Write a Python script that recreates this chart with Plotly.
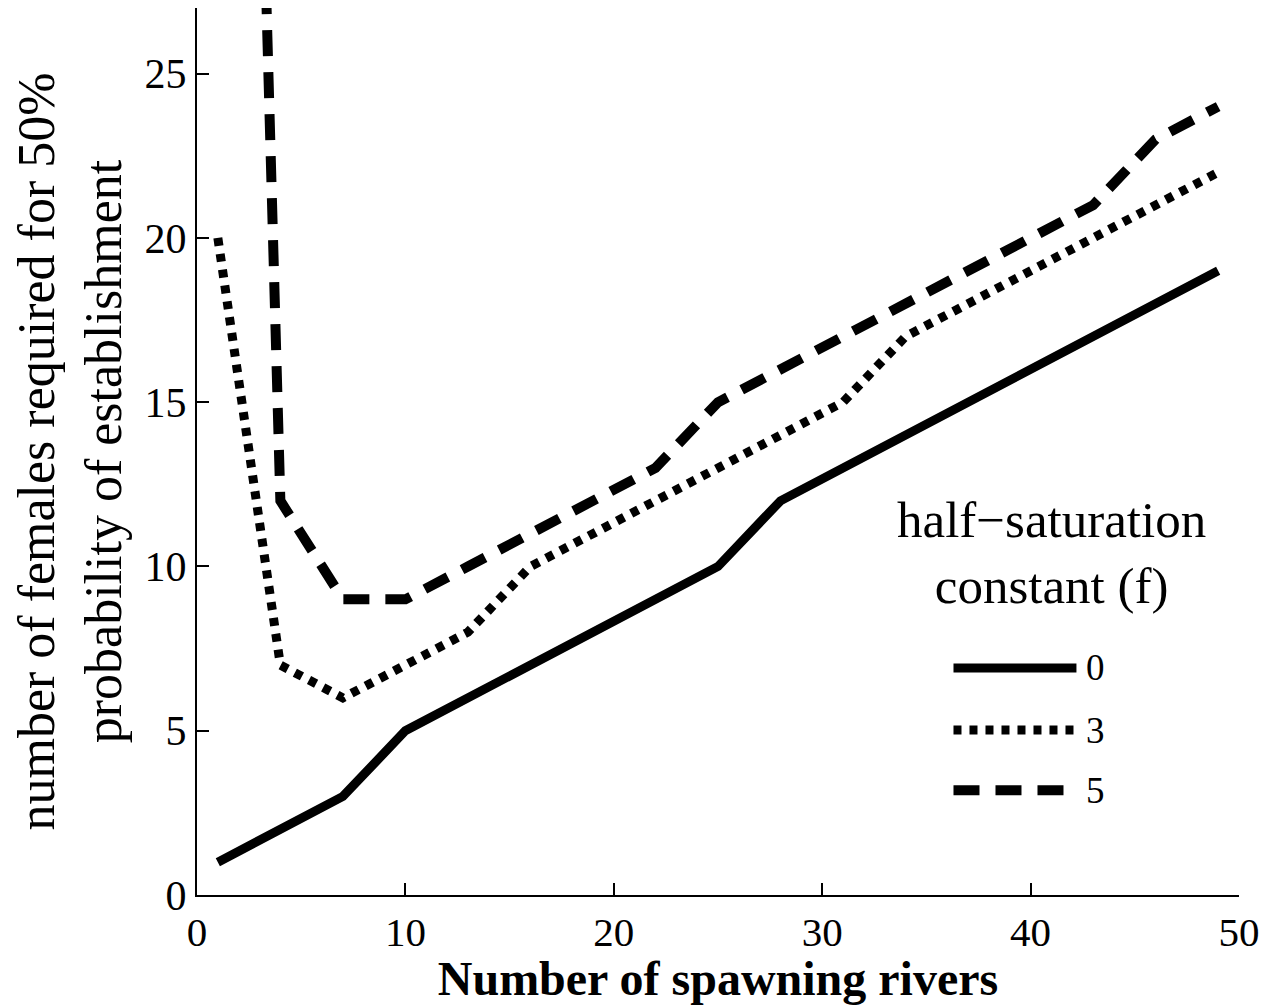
import plotly.graph_objects as go

# ---- data ----
rivers = [1, 4, 7, 10, 13, 16, 19, 22, 25, 28, 31, 34, 37, 40, 43, 46, 49]
f0 = [1, 2, 3, 5, 6, 7, 8, 9, 10, 12, 13, 14, 15, 16, 17, 18, 19]
f3 = [20, 7, 6, 7, 8, 10, 11, 12, 13, 14, 15, 17, 18, 19, 20, 21, 22]
f5 = [80, 12, 9, 9, 10, 11, 12, 13, 15, 16, 17, 18, 19, 20, 21, 23, 24]
series_names = ["0", "3", "5"]
x_ticks = [0, 10, 20, 30, 40, 50]
y_ticks = [0, 5, 10, 15, 20, 25]

FONT = "Liberation Serif, Times New Roman, serif"

styles = [
    dict(width=9, dash="solid"),
    dict(width=9, dash="8px,8px"),
    dict(width=10, dash="26px,16px"),
]

fig = go.Figure()
for name, ys, st in zip(series_names, [f0, f3, f5], styles):
    fig.add_trace(go.Scatter(
        x=rivers, y=ys, mode="lines", name=name,
        line=dict(color="black", width=st["width"], dash=st["dash"]),
        showlegend=False,
    ))

# ---- manual legend (samples + labels) ----
leg_x0, leg_x1 = 0.726, 0.844
leg_rows = [0.256, 0.186, 0.118]
for name, yy, st in zip(series_names, leg_rows, styles):
    fig.add_shape(type="line", xref="paper", yref="paper",
                  x0=leg_x0, x1=leg_x1, y0=yy, y1=yy,
                  line=dict(color="black", width=st["width"], dash=st["dash"]))
    fig.add_annotation(xref="paper", yref="paper", x=0.851, y=yy,
                       xanchor="left", yanchor="middle", showarrow=False,
                       text=name, font=dict(family=FONT, size=37, color="black"))

fig.add_annotation(xref="paper", yref="paper", x=0.82, y=0.386,
                   xanchor="center", yanchor="middle", showarrow=False,
                   align="center",
                   text="half\u2212saturation<br>constant (f)",
                   font=dict(family=FONT, size=51, color="black"))

fig.update_layout(
    width=1268, height=1005,
    margin=dict(l=197, r=27, t=8, b=110),
    paper_bgcolor="white", plot_bgcolor="white",
    font=dict(family=FONT, color="black"),
    xaxis=dict(
        range=[0, 50], tickvals=x_ticks, ticks="inside", ticklen=12,
        tickwidth=2, tickcolor="black", showline=True, linecolor="black",
        linewidth=2, showgrid=False, zeroline=False,
        tickfont=dict(family=FONT, size=41, color="black"),
        title=dict(text="<b>Number of spawning rivers</b>",
                   font=dict(family=FONT, size=48, color="black"),
                   standoff=4),
    ),
    yaxis=dict(
        range=[0, 27], tickvals=y_ticks, ticks="inside", ticklen=12,
        tickwidth=2, tickcolor="black", showline=True, linecolor="black",
        linewidth=2, showgrid=False, zeroline=False,
        tickfont=dict(family=FONT, size=42, color="black"),
        title=dict(text="number of females required for 50%<br>probability of establishment",
                   font=dict(family=FONT, size=52, color="black"),
                   standoff=6),
    ),
)

fig.write_html("out.html")
